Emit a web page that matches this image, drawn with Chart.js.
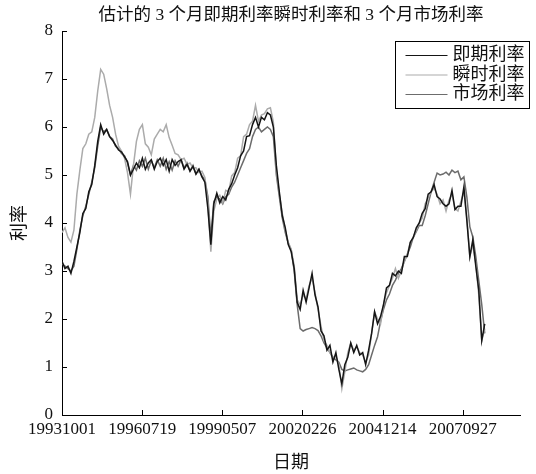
<!DOCTYPE html>
<html>
<head>
<meta charset="utf-8">
<script src="https://cdn.jsdelivr.net/npm/chart.js@4"></script>
<style>
  html, body { margin: 0; padding: 0; background: #fff; }
</style>
</head>
<body>
<canvas id="chart" width="536" height="474"></canvas>
<script>
// observation index on x, tick labels are the dates at those observations
const xTickPos = [0, 700, 1400, 2100, 2800, 3500];
const xTickLabels = ["19931001", "19960719", "19990507", "20020226", "20041214", "20070927"];
const step = 26; // one sample every 26 observations

const chartTitle = "估计的 3 个月即期利率瞬时利率和 3 个月市场利率";
const seriesNames = ["即期利率", "瞬时利率", "市场利率"];
const seriesColors = ["#151515", "#ababab", "#6c6c6c"];

// 估计的即期利率
const spotRate = [
  3.20, 3.05, 3.10, 2.95, 3.20, 3.50, 3.80, 4.20, 4.30, 4.65,
  4.80, 5.20, 5.70, 6.05, 5.85, 5.95, 5.80, 5.72, 5.62, 5.52,
  5.48, 5.38, 5.28, 5.00, 5.12, 5.25, 5.15, 5.35, 5.12, 5.25,
  5.32, 5.12, 5.28, 5.35, 5.20, 5.32, 5.08, 5.32, 5.20, 5.28,
  5.32, 5.12, 5.22, 5.08, 5.18, 5.02, 5.12, 4.96, 4.85, 4.30,
  3.55, 4.40, 4.62, 4.42, 4.55, 4.48, 4.70, 4.82, 5.00, 5.15,
  5.40, 5.50, 5.80, 5.82, 6.05, 6.20, 6.00, 6.20, 6.15, 6.30,
  6.25, 6.00, 5.20, 4.65, 4.15, 3.90, 3.55, 3.40, 3.05, 2.35,
  2.20, 2.60, 2.35, 2.65, 2.95, 2.50, 2.25, 1.75, 1.65, 1.35,
  1.45, 1.10, 1.30, 0.95, 0.65, 1.05, 1.20, 1.50, 1.30, 1.45,
  1.25, 1.30, 1.05, 1.35, 1.70, 2.15, 1.90, 2.05, 2.30, 2.65,
  2.70, 2.95, 2.90, 3.00, 2.95, 3.30, 3.30, 3.60, 3.70, 3.90,
  4.00, 4.20, 4.30, 4.60, 4.65, 4.80, 4.55, 4.50, 4.40, 4.35,
  4.40, 4.68, 4.28, 4.35, 4.35, 4.75, 4.05, 3.30, 3.65, 3.10,
  2.60, 1.55, 1.90
];

// 估计的瞬时利率
const instRate = [
  3.80, 3.90, 3.70, 3.60, 3.85, 4.60, 5.10, 5.55, 5.65, 5.85,
  5.90, 6.20, 6.75, 7.20, 7.10, 6.80, 6.45, 6.20, 5.85, 5.60,
  5.50, 5.35, 5.05, 4.60, 5.20, 5.70, 5.95, 6.05, 5.65, 5.58,
  5.42, 5.75, 5.85, 5.95, 5.90, 6.05, 5.78, 5.62, 5.45, 5.42,
  5.32, 5.35, 5.22, 5.25, 5.15, 5.15, 5.05, 5.08, 4.95, 4.40,
  3.40, 4.25, 4.50, 4.58, 4.42, 4.68, 4.65, 4.98, 5.05, 5.35,
  5.40, 5.80, 5.85, 6.05, 6.12, 6.45, 6.12, 6.25, 6.28, 6.38,
  6.40, 6.10, 5.10, 4.60, 4.20, 3.85, 3.60, 3.45, 3.10, 2.40,
  2.30, 2.50, 2.42, 2.70, 2.85, 2.55, 2.20, 1.85, 1.55, 1.45,
  1.30, 1.20, 1.22, 1.05, 0.55, 0.90, 1.30, 1.50, 1.35, 1.42,
  1.30, 1.25, 1.10, 1.25, 1.70, 2.15, 2.00, 1.90, 2.30, 2.55,
  2.70, 2.85, 3.05, 2.85, 3.00, 3.20, 3.35, 3.60, 3.70, 3.85,
  4.00, 4.10, 4.40, 4.52, 4.65, 4.72, 4.60, 4.40, 4.48, 4.25,
  4.48, 4.60, 4.30, 4.25, 4.45, 4.65, 4.10, 3.30, 3.55, 3.15,
  2.50, 1.55, 1.80
];

// 3 个月市场利率
const marketRate = [
  3.15, 3.10, 3.05, 3.00, 3.10, 3.45, 3.85, 4.15, 4.35, 4.60,
  4.85, 5.15, 5.60, 6.00, 5.90, 5.95, 5.80, 5.75, 5.60, 5.55,
  5.45, 5.40, 5.25, 5.00, 5.20, 5.10, 5.30, 5.18, 5.35, 5.12,
  5.30, 5.15, 5.32, 5.18, 5.35, 5.12, 5.28, 5.10, 5.30, 5.18,
  5.32, 5.15, 5.25, 5.08, 5.20, 5.02, 5.12, 4.98, 4.90, 4.55,
  3.70, 4.45, 4.55, 4.50, 4.40, 4.55, 4.60, 4.75, 4.85, 5.00,
  5.15, 5.30, 5.45, 5.55, 5.80, 5.95, 6.00, 5.90, 5.95, 6.00,
  5.95, 5.80, 5.00, 4.55, 4.10, 3.80, 3.58, 3.44, 3.00, 2.30,
  1.80, 1.75, 1.78, 1.80, 1.82, 1.80, 1.76, 1.65, 1.50, 1.40,
  1.30, 1.20, 1.15, 1.10, 0.95, 0.92, 0.94, 0.96, 0.98, 0.94,
  0.92, 0.90, 0.95, 1.05, 1.25, 1.45, 1.63, 1.95, 2.20, 2.40,
  2.52, 2.70, 2.81, 2.95, 3.05, 3.20, 3.35, 3.50, 3.70, 3.82,
  3.95, 3.95, 4.15, 4.40, 4.65, 4.85, 5.04, 5.00, 5.02, 5.06,
  5.00, 5.10, 5.05, 5.08, 4.90, 4.96, 4.54, 3.92, 3.71, 3.30,
  2.80, 2.30, 1.70
];

const fontFam = '"Liberation Serif", "Noto Sans CJK SC", serif';

function toPoints(arr) {
  return arr.map((v, i) => ({ x: i * step, y: v }));
}

// title, ticks pointing into the plot, boxed legend
const extras = {
  id: "extras",
  afterDraw(chart) {
    const ctx = chart.ctx;
    const xs = chart.scales.x;
    const ys = chart.scales.y;
    const area = chart.chartArea;
    ctx.save();

    ctx.fillStyle = "#111";
    ctx.font = "17.5px " + fontFam;
    ctx.textAlign = "center";
    ctx.textBaseline = "middle";
    ctx.fillText(chartTitle, (area.left + area.right) / 2, 15);

    ctx.strokeStyle = "#000";
    ctx.lineWidth = 1;
    ctx.beginPath();
    xTickPos.forEach(v => {
      const px = Math.round(xs.getPixelForValue(v)) + 0.5;
      ctx.moveTo(px, area.bottom);
      ctx.lineTo(px, area.bottom - 5);
    });
    for (let v = 0; v <= 8; v++) {
      const py = Math.round(ys.getPixelForValue(v)) + 0.5;
      ctx.moveTo(area.left, py);
      ctx.lineTo(area.left + 5, py);
    }
    ctx.stroke();

    // legend
    const bx = 395.5, by = area.top + 10.5, bw = 134, bh = 67;
    ctx.fillStyle = "#fff";
    ctx.fillRect(bx, by, bw, bh);
    ctx.strokeRect(bx, by, bw, bh);
    ctx.font = "18px " + fontFam;
    ctx.textAlign = "left";
    seriesNames.forEach((name, i) => {
      const cy = by + 14 + i * 19.5;
      ctx.strokeStyle = seriesColors[i];
      ctx.lineWidth = 1.2;
      ctx.beginPath();
      ctx.moveTo(bx + 10, cy);
      ctx.lineTo(bx + 52, cy);
      ctx.stroke();
      ctx.fillStyle = "#111";
      ctx.fillText(name, bx + 57, cy);
    });
    ctx.restore();
  }
};

new Chart(document.getElementById("chart"), {
  type: "line",
  data: {
    datasets: [
      { label: seriesNames[0], data: toPoints(spotRate), borderColor: seriesColors[0] },
      { label: seriesNames[1], data: toPoints(instRate), borderColor: seriesColors[1] },
      { label: seriesNames[2], data: toPoints(marketRate), borderColor: seriesColors[2] }
    ]
  },
  options: {
    responsive: false,
    animation: false,
    layout: { padding: { left: 0, right: 16, top: 31, bottom: 0 } },
    elements: {
      point: { radius: 0 },
      line: { borderWidth: 1.5, tension: 0 }
    },
    plugins: {
      legend: { display: false },
      tooltip: { enabled: false },
      title: { display: false }
    },
    scales: {
      x: {
        type: "linear",
        min: 0,
        max: 4000,
        afterBuildTicks: scale => { scale.ticks = xTickPos.map(v => ({ value: v })); },
        afterFit: scale => { scale.height = 59; },
        grid: { display: false, drawTicks: false },
        border: { display: true, color: "#000", width: 1 },
        ticks: {
          autoSkip: false,
          maxRotation: 0,
          padding: 4,
          color: "#111",
          font: { family: fontFam, size: 17 },
          callback: v => xTickLabels[xTickPos.indexOf(v)]
        },
        title: {
          display: true,
          text: "日期",
          color: "#111",
          font: { family: fontFam, size: 18 },
          padding: { top: 8, bottom: 0 }
        }
      },
      y: {
        min: 0,
        max: 8,
        afterFit: scale => { scale.width = 62; },
        grid: { display: false, drawTicks: false },
        border: { display: true, color: "#000", width: 1 },
        ticks: {
          stepSize: 1,
          padding: 9,
          color: "#111",
          font: { family: fontFam, size: 17 }
        },
        title: {
          display: true,
          text: "利率",
          color: "#111",
          font: { family: fontFam, size: 18 },
          padding: { top: 9, bottom: 0 }
        }
      }
    }
  },
  plugins: [extras]
});
</script>
</body>
</html>
